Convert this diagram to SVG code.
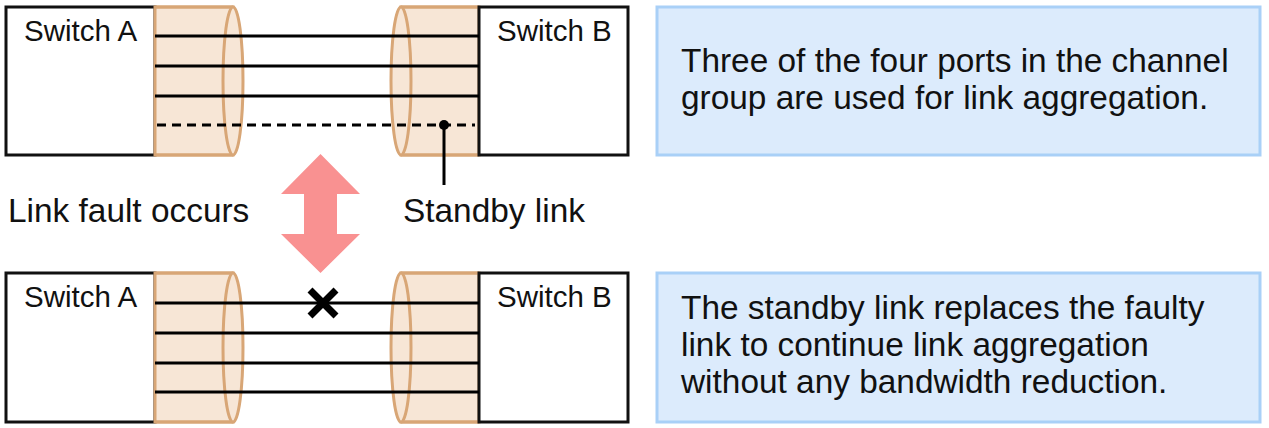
<svg xmlns="http://www.w3.org/2000/svg" width="1269" height="428" viewBox="0 0 1269 428">
<defs>
<style>
.sw{fill:#fff;stroke:#111;stroke-width:3}
.cyl{fill:#f7e6d6;stroke:#d8a676;stroke-width:3}
.ln{stroke:#000;stroke-width:3;fill:none}
.dash{stroke:#000;stroke-width:3;fill:none;stroke-dasharray:9 6}
.t28{font-family:"Liberation Sans",Arial,sans-serif;font-size:29.5px;fill:#111}
.t32{font-family:"Liberation Sans",Arial,sans-serif;font-size:33.4px;fill:#111}
.note{fill:#dcebfc;stroke:#a9d0f7;stroke-width:3}
</style>
</defs>
<rect width="1269" height="428" fill="#fff"/>

<!-- top group -->
<g id="switchA-top">
<rect class="sw" x="6" y="7" width="149" height="148"/>
<text class="t28" x="24" y="41">Switch A</text>
</g>
<g id="bundle-top-left">
<path class="cyl" d="M155,7 H233 V155 H155 Z" stroke="none"/>
<path class="cyl" d="M155,7 H233 M155,155 H233" fill="none"/>
<ellipse class="cyl" cx="233" cy="81" rx="10" ry="74"/>
</g>
<g id="bundle-top-right">
<path class="cyl" d="M401,7 H479 V155 H401 Z" stroke="none"/>
<path class="cyl" d="M401,7 H479 M401,155 H479" fill="none"/>
<ellipse class="cyl" cx="401" cy="81" rx="10" ry="74"/>
</g>
<g id="switchB-top">
<rect class="sw" x="479" y="7" width="149" height="148"/>
<text class="t28" x="497" y="41">Switch B</text>
</g>

<!-- bottom group -->
<g id="switchA-bottom">
<rect class="sw" x="6" y="273" width="149" height="149"/>
<text class="t28" x="24" y="307">Switch A</text>
</g>
<g id="bundle-bottom-left">
<path class="cyl" d="M155,273 H233 V422 H155 Z" stroke="none"/>
<path class="cyl" d="M155,273 H233 M155,422 H233" fill="none"/>
<ellipse class="cyl" cx="233" cy="347.5" rx="10" ry="74.5"/>
</g>
<g id="bundle-bottom-right">
<path class="cyl" d="M401,273 H479 V422 H401 Z" stroke="none"/>
<path class="cyl" d="M401,273 H479 M401,422 H479" fill="none"/>
<ellipse class="cyl" cx="401" cy="347.5" rx="10" ry="74.5"/>
</g>
<g id="switchB-bottom">
<rect class="sw" x="479" y="273" width="149" height="149"/>
<text class="t28" x="497" y="307">Switch B</text>
</g>

<g id="connectors">
<line class="ln" x1="155" y1="36" x2="479" y2="36"/>
<line class="ln" x1="155" y1="66" x2="479" y2="66"/>
<line class="ln" x1="155" y1="96" x2="479" y2="96"/>
<line class="dash" x1="157" y1="125" x2="475" y2="125"/>
<circle cx="444" cy="125" r="5" fill="#000"/>
<line class="ln" x1="444" y1="125" x2="444" y2="185"/>
<line class="ln" x1="155" y1="303" x2="479" y2="303"/>
<line class="ln" x1="155" y1="333" x2="479" y2="333"/>
<line class="ln" x1="155" y1="363" x2="479" y2="363"/>
<line class="ln" x1="155" y1="392" x2="479" y2="392"/>
</g>

<g id="fault-mark">
<path d="M310,290 L336,316 M336,290 L310,316" stroke="#000" stroke-width="7" fill="none"/>
</g>

<g id="transition-arrow">
<polygon points="320.5,154 360,194 337,194 337,234 360,234 320.5,273 281,234 304,234 304,194 281,194" fill="#f99191"/>
</g>

<g id="labels">
<text class="t32" x="8" y="222">Link fault occurs</text>
<text class="t32" x="403" y="222">Standby link</text>
</g>

<g id="note-top">
<rect class="note" x="657" y="7" width="603" height="148"/>
<text class="t32" x="681" y="72">Three of the four ports in the channel</text>
<text class="t32" x="681" y="109">group are used for link aggregation.</text>
</g>
<g id="note-bottom">
<rect class="note" x="657" y="273" width="603" height="149"/>
<text class="t32" x="681" y="319">The standby link replaces the faulty</text>
<text class="t32" x="681" y="356">link to continue link aggregation</text>
<text class="t32" x="681" y="393">without any bandwidth reduction.</text>
</g>
</svg>
